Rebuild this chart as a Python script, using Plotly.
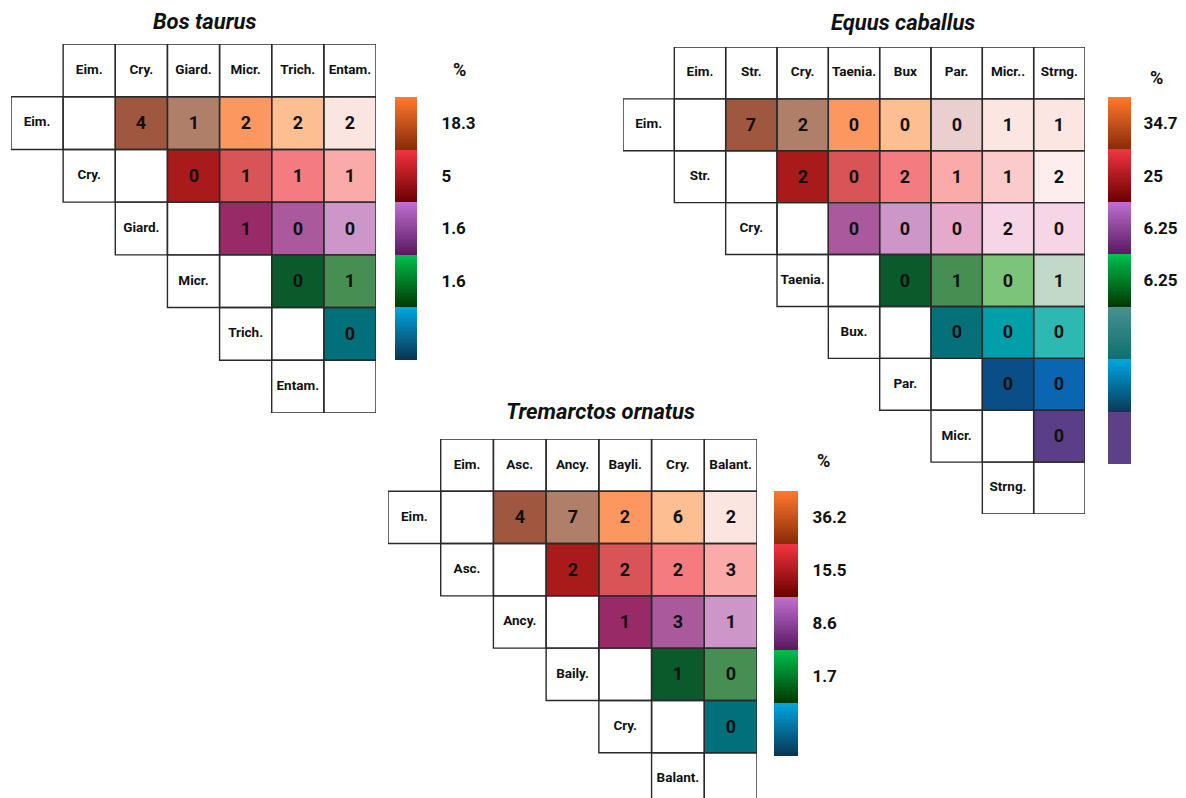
import plotly.graph_objects as go

# the page places the figure 8px in from the top-left corner
OFF = 8
W, H = 1186 - OFF, 798 - OFF
FONT = "Roboto"

# ---------------- data ----------------
bos_cols = ["Eim.", "Cry.", "Giard.", "Micr.", "Trich.", "Entam."]
bos_rows = ["Eim.", "Cry.", "Giard.", "Micr.", "Trich.", "Entam."]
bos_counts = [
    [4, 1, 2, 2, 2],
    [0, 1, 1, 1],
    [1, 0, 0],
    [0, 1],
    [0],
]
bos_fill = [
    ["#A0573F", "#B07F6A", "#FD9760", "#FDBE92", "#FBE5E0"],
    ["#A91B1B", "#D85456", "#F47C80", "#FBAAAA"],
    ["#992A68", "#AA5A9C", "#CC96C8"],
    ["#0B5A2C", "#468E52"],
    ["#02707A"],
]
bos_cb_labels = ["18.3", "5", "1.6", "1.6"]
bos_cb_segments = [("#FF7A2E", "#8A2A08"), ("#F23540", "#6A0000"),
                   ("#C070D0", "#581860"), ("#00C050", "#003800"),
                   ("#00A8E0", "#0A3450")]

equ_cols = ["Eim.", "Str.", "Cry.", "Taenia.", "Bux", "Par.", "Micr..", "Strng."]
equ_rows = ["Eim.", "Str.", "Cry.", "Taenia.", "Bux.", "Par.", "Micr.", "Strng."]
equ_counts = [
    [7, 2, 0, 0, 0, 1, 1],
    [2, 0, 2, 1, 1, 2],
    [0, 0, 0, 2, 0],
    [0, 1, 0, 1],
    [0, 0, 0],
    [0, 0],
    [0],
]
equ_fill = [
    ["#A0573F", "#B07F6A", "#FD9760", "#FDBE92", "#E9D0CF", "#FBE6E1", "#FBE6E1"],
    ["#A91B1B", "#D85456", "#F47C80", "#FBAAAA", "#FBCBCB", "#FEEDED"],
    ["#AA5A9C", "#CC96C8", "#E4A9CB", "#F5D5E6", "#F5D5E6"],
    ["#0B5A2C", "#468E52", "#7DC47B", "#C2D8C8"],
    ["#05707A", "#009FAA", "#2DB9B2"],
    ["#0A4E88", "#0A66B0"],
    ["#5A3E87"],
]
equ_cb_labels = ["34.7", "25", "6.25", "6.25"]
equ_cb_segments = [("#FF7A2E", "#8A2A08"), ("#F23540", "#6A0000"),
                   ("#C070D0", "#581860"), ("#00C050", "#003800"),
                   ("#4A9090", "#0E7070"), ("#00A8E0", "#0A3A5A"),
                   ("#5C4088", "#5C4088")]

tre_cols = ["Eim.", "Asc.", "Ancy.", "Bayli.", "Cry.", "Balant."]
tre_rows = ["Eim.", "Asc.", "Ancy.", "Baily.", "Cry.", "Balant."]
tre_counts = [
    [4, 7, 2, 6, 2],
    [2, 2, 2, 3],
    [1, 3, 1],
    [1, 0],
    [0],
]
tre_fill = [
    ["#A0573F", "#B07F6A", "#FD9760", "#FDBE92", "#FBE5E0"],
    ["#A91B1B", "#D85456", "#F47C80", "#FBAAAA"],
    ["#992A68", "#AA5A9C", "#CC96C8"],
    ["#0B5A2C", "#468E52"],
    ["#02707A"],
]
tre_cb_labels = ["36.2", "15.5", "8.6", "1.7"]
tre_cb_segments = [("#FF7A2E", "#8A2A08"), ("#F23540", "#6A0000"),
                   ("#C070D0", "#581860"), ("#00C050", "#003800"),
                   ("#00A8E0", "#0A3450")]

titles = ["Bos taurus", "Equus caballus", "Tremarctos ornatus"]

# ---------------- layout geometry (window pixels) ----------------
panels = [
    dict(grid=(11, 376, 44, 413), cb=(395, 417, 97, 360), gap=20,
         pct=(459, 70), title=(204, 22)),
    dict(grid=(623, 1085, 47, 514), cb=(1108, 1131, 97, 464), gap=8,
         pct=(1156, 77), title=(903, 23)),
    dict(grid=(388, 757, 439, 805), cb=(774, 798, 491, 756), gap=10,
         pct=(823, 461), title=(600, 412)),
]


def fx(p):
    return (p - OFF) / W


def fy(p):
    return 1 - (p - OFF) / H


fig = go.Figure()
layout = {}
shapes = []
annotations = []


def ax_names(k):
    return ("x" if k == 1 else f"x{k}", "y" if k == 1 else f"y{k}",
            "xaxis" if k == 1 else f"xaxis{k}", "yaxis" if k == 1 else f"yaxis{k}")


def add_panel(k, cols, rows, counts, fills, geo, title):
    n = len(cols)
    xa, ya, xk, yk = ax_names(k)
    x0, x1, y0, y1 = geo["grid"]
    rh = (y1 - y0) / (n + 1)
    y1c = min(y1, H + OFF)
    flat = [c for row in fills for c in row]
    m = len(flat)
    z = [[None] * (n + 1) for _ in range(n + 1)]
    txt = [[""] * (n + 1) for _ in range(n + 1)]
    q = 0
    for i, row in enumerate(counts):
        for jj, v in enumerate(row):
            c = i + 2 + jj
            z[i + 1][c] = q + 0.5
            txt[i + 1][c] = str(v)
            q += 1
    cs = []
    for qi, c in enumerate(flat):
        cs.append([qi / m, c])
        cs.append([(qi + 1) / m, c])
    fig.add_trace(go.Heatmap(
        x=list(range(n + 1)), y=list(range(n + 1)), z=z, text=txt,
        texttemplate="%{text}", zmin=0, zmax=m, colorscale=cs,
        showscale=False, hoverinfo="skip",
        textfont=dict(family=FONT, size=18, color="#111", weight="bold"),
        xaxis=xa, yaxis=ya))
    lx, ly, lt = [], [], []
    for j, lab in enumerate(cols):
        lx.append(j + 1); ly.append(0); lt.append(lab)
    for i, lab in enumerate(rows):
        lx.append(i); ly.append(i + 1); lt.append(lab)
    fig.add_trace(go.Scatter(
        x=lx, y=ly, text=lt, mode="text", hoverinfo="skip",
        textfont=dict(family=FONT, size=13.5, color="#111", weight="bold"),
        xaxis=xa, yaxis=ya, cliponaxis=False))
    boxes = [(j + 1, 0) for j in range(n)]
    for i in range(n):
        for c in range(i, n + 1):
            boxes.append((c, i + 1))
    for c, r in boxes:
        shapes.append(dict(type="rect", xref=xa, yref=ya,
                           x0=c - 0.5, x1=c + 0.5, y0=r - 0.5, y1=r + 0.5,
                           line=dict(color="#2a2a2a", width=1.4),
                           fillcolor="rgba(0,0,0,0)", layer="above"))
    layout[xk] = dict(domain=[fx(x0), fx(x1)], range=[-0.5, n + 0.5],
                      visible=False, fixedrange=True, anchor=ya)
    layout[yk] = dict(domain=[fy(y1c), fy(y0)],
                      range=[-0.5 + (y1c - y0) / rh, -0.5],
                      visible=False, fixedrange=True, anchor=xa)
    tx, ty = geo["title"]
    annotations.append(dict(text=title, x=fx(tx), y=fy(ty), xref="paper",
                            yref="paper", showarrow=False, xanchor="center",
                            yanchor="middle",
                            font=dict(family=FONT, size=22, color="#111",
                                      weight="bold", style="italic")))
    px_, py_ = geo["pct"]
    annotations.append(dict(text="%", x=fx(px_), y=fy(py_), xref="paper",
                            yref="paper", showarrow=False, xanchor="center",
                            yanchor="middle",
                            font=dict(family=FONT, size=18, color="#111",
                                      weight="bold")))


def add_colorbar(k, segments, labels, geo):
    xa, ya, xk, yk = ax_names(k)
    bx0, bx1, by0, by1 = geo["cb"]
    m = len(segments)
    R = 40
    ys, zs = [], []
    for s in range(m):
        for r in range(R):
            yv = s + (r + 0.5) / R
            ys.append(yv)
            zs.append([yv])
    cs = []
    for s, (top, bot) in enumerate(segments):
        cs.append([s / m, top])
        cs.append([(s + 1) / m, bot])
    fig.add_trace(go.Heatmap(x=[0], y=ys, z=zs, zmin=0, zmax=m, colorscale=cs,
                             showscale=False, hoverinfo="skip",
                             xaxis=xa, yaxis=ya))
    layout[xk] = dict(domain=[fx(bx0), fx(bx1)], range=[-0.5, 0.5],
                      visible=False, fixedrange=True, anchor=ya)
    layout[yk] = dict(domain=[fy(by1), fy(by0)], range=[m, 0],
                      side="right", anchor=xa, fixedrange=True,
                      tickvals=[s + 0.5 for s in range(len(labels))],
                      ticktext=labels, ticks="outside", ticklen=geo["gap"],
                      tickcolor="rgba(0,0,0,0)", showgrid=False,
                      zeroline=False, showline=False,
                      tickfont=dict(family=FONT, size=17, color="#111",
                                    weight="bold"))


add_panel(1, bos_cols, bos_rows, bos_counts, bos_fill, panels[0], titles[0])
add_panel(2, equ_cols, equ_rows, equ_counts, equ_fill, panels[1], titles[1])
add_panel(3, tre_cols, tre_rows, tre_counts, tre_fill, panels[2], titles[2])
add_colorbar(4, bos_cb_segments, bos_cb_labels, panels[0])
add_colorbar(5, equ_cb_segments, equ_cb_labels, panels[1])
add_colorbar(6, tre_cb_segments, tre_cb_labels, panels[2])

fig.update_layout(
    width=W, height=H, margin=dict(l=0, r=0, t=0, b=0),
    paper_bgcolor="white", plot_bgcolor="white", showlegend=False,
    shapes=shapes, annotations=annotations, **layout)

fig.write_html("out.html")
